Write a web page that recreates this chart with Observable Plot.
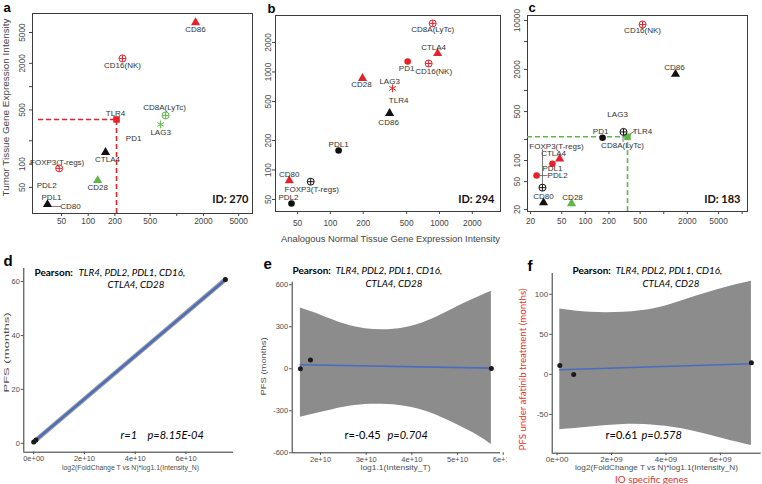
<!DOCTYPE html>
<html><head><meta charset="utf-8">
<script src="https://cdn.jsdelivr.net/npm/d3@7"></script>
<script src="https://cdn.jsdelivr.net/npm/@observablehq/plot@0.6"></script>
<style>
body{margin:0;background:#fff;}
#fig{position:relative;width:762px;height:484px;overflow:hidden;}
#fig > svg{position:absolute;display:block;}
</style></head><body><div id="fig"></div>
<script>
// ---------------- DATA ----------------
const genes = ["CD86","CD16(NK)","TLR4","CD8A(LyTc)","LAG3","PD1","CTLA4","FOXP3(T-regs)","CD28","PDL2","PDL1","CD80"];
const geneGroup = ["B7/CD28","cell marker","TLR4","cell marker","LAG3","PD-1","B7/CD28","cell marker","B7/CD28","PD-1","PD-1","B7/CD28"];

// patient ID 270 (normal = x, tumor = y)
const normal270 = [1630, 244, 209, 748, 658, 326, 157, 47, 128, 34, 36.6, 34.7];
const tumor270  = [6730, 2310, 377, 425, 325, 264, 142, 88, 61.5, 43, 28.8, 30.1];
const status270 = ["up","up","up","down","down","none","none","up","down","none","none","none"];
// patient ID 294
const normal294 = [349, 796, 431, 867, 372, 511, 962, 66, 197, 44, 119, 42];
const tumor294  = [378, 1220, 604, 3130, 680, 1280, 1546, 76, 860, 45.5, 158, 78];
const status294 = ["none","up","none","up","up","up","up","none","up","none","none","up"];
// patient ID 183
const normal183 = [1413, 537, 345, 307, 258, 166, 47, 28.4, 66.7, 23.9, 38, 29.3];
const tumor183  = [1710, 8770, 218, 256, 367, 211, 106, 41, 24.3, 61, 90, 25];
const status183 = ["none","up","down","none","none","none","up","none","down","up","up","none"];

const statusKeys = ["up","down","none"];

// tick values and labels
const ticksA_x = [50,100,200,500,1000,2000,5000];
const labelsA_x = ["50","100","200","500","","2000","5000"];
const ticksA_y = [50,100,200,500,1000,2000,5000];
const labelsA_y = ["50","100","","500","","2000","5000"];
const ticksB_x = [50,100,200,500,1000,2000];
const labelsB_x = ["50","100","200","500","1000","2000"];
const ticksB_y = [50,100,200,500,1000,2000];
const labelsB_y = ["50","100","200","500","1000","2000"];
const ticksC_x = [20,50,100,200,500,1000,2000,5000,10000];
const labelsC_x = ["20","50","100","200","500","","2000","5000",""];
const ticksC_y = [20,50,100,200,500,1000,2000,5000,10000];
const labelsC_y = ["20","50","100","","500","","2000","","10000"];

// regression panels: score vs PFS
const scoreD = [0, 0.09e10, 7.55e10];
const pfsD   = [0.5, 1.2, 60.7];
const fitD_x = [0, 7.55e10];
const fitD_y = [0.5, 60.7];

const scoreE = [1.56e10, 1.78e10, 5.74e10];
const pfsE   = [0, 62, 1];
const fitE_x = [1.56e10, 5.74e10];
const fitE_y = [28.6, 4];
const bandE_x  = [1.56e10, 2.02e10, 2.51e10, 2.98e10, 3.47e10, 3.97e10, 4.46e10, 4.95e10, 5.44e10, 5.74e10];
const bandE_hi = [433, 381, 321, 286, 279, 302, 357, 436, 511, 554];
const bandE_lo = [-346, -310, -274, -255, -255, -274, -321, -393, -476, -541];

const scoreF = [0.1e9, 0.61e9, 7.14e9];
const pfsF   = [11.2, 0, 14.6];
const fitF_x = [0.1e9, 7.14e9];
const fitF_y = [5.8, 13.3];
const bandF_x  = [0.1e9, 1.225e9, 2.45e9, 3.68e9, 4.9e9, 6.12e9, 7.14e9];
const bandF_hi = [81.7, 77.5, 77.5, 82.9, 95.4, 107.9, 116.3];
const bandF_lo = [-69.2, -65.8, -62.5, -63.8, -70, -80.4, -88.8];

const ticksD_x = [0, 2e10, 4e10, 6e10];
const labelsD_x = ["0e+00","2e+10","4e+10","6e+10"];
const ticksD_y = [0, 20, 40, 60];
const ticksE_x = [2e10, 3e10, 4e10, 5e10, 6e10];
const labelsE_x = ["2e+10","3e+10","4e+10","5e+10","6e+10"];
const ticksE_y = [-600, -300, 0, 300, 600];
const ticksF_x = [0, 2e9, 4e9, 6e9];
const labelsF_x = ["0e+00","2e+09","4e+09","6e+09"];
const ticksF_y = [-50, 0, 50, 100];

const pearsonGenes = "TLR4, PDL2, PDL1, CD16,";
const pearsonGenes2 = "CTLA4, CD28";

// ---------------- STYLE / LAYOUT ----------------
const SANS = "'Liberation Sans', Arial, sans-serif";
const CAL = "Lato, 'Open Sans', sans-serif";
const statusColors = ["#e8202a", "#5fb846", "#111111"];
const groupStyle = {
  "PD-1": {symbol: "circle", r: 3.3, solid: true},
  "B7/CD28": {symbol: "triangle", r: 3.4, solid: true},
  "TLR4": {symbol: "square", r: 3.7, solid: true},
  "cell marker": {symbol: "circle", r: 3.5, solid: false, plus: 2.2},
  "LAG3": {symbol: "asterisk", r: 3.7, solid: false}
};
// leader line: [dx, dy, length px, angle deg]
const leaderShape = {draw(ctx, l) { ctx.moveTo(0, 0); ctx.lineTo(0, -l); }};

const fig = document.getElementById("fig");

function stretchText(svg) {
  svg.querySelectorAll("g[class*='len-']").forEach(g => {
    const m = g.getAttribute("class").match(/len-(\d+)/);
    g.querySelectorAll("text").forEach(t => {
      t.setAttribute("textLength", m[1]);
      t.setAttribute("lengthAdjust", "spacingAndGlyphs");
    });
  });
}

function place(svg, left, top) {
  svg.style.left = left + "px";
  svg.style.top = top + "px";
  stretchText(svg);
  fig.appendChild(svg);
}

// text at absolute page position
function absText(cfg, str, px, py, opts) {
  const fx = cfg.left + cfg.m[3], fy = cfg.top + cfg.m[0];
  return Plot.text([str], Object.assign({text: d => d, frameAnchor: "top-left", dx: px - fx, dy: py - fy}, opts));
}

function scatter(cfg) {
  const rows = genes.map((g, i) => ({gene: g, group: geneGroup[i], x: cfg.xs[i], y: cfg.ys[i], status: cfg.status[i]}));
  const tlr = rows.filter(r => r.gene === "TLR4");
  const xt = cfg.xTicks.map((v, i) => ({v, label: cfg.xLabels[i]}));
  const yt = cfg.yTicks.map((v, i) => ({v, label: cfg.yLabels[i]}));
  const marks = [
    Plot.frame({stroke: "#3c3c3c", strokeWidth: 1}),
    Plot.axisX(cfg.xTicks, {tickSize: 3, text: null, label: null}),
    Plot.axisY(cfg.yTicks, {tickSize: 3, text: null, label: null}),
    Plot.text(xt, {x: "v", text: "label", frameAnchor: "bottom", dy: 3 + cfg.padX, lineAnchor: "top", fontSize: 8.3, fill: "#444"}),
    Plot.text(yt, {y: "v", text: "label", frameAnchor: "left", dx: -(3 + cfg.padY), rotate: -90, textAnchor: "middle", lineAnchor: "bottom", fontSize: 8.3, fill: "#444"}),
    Plot.ruleY(tlr, {y: "y", x1: cfg.dashFrom, x2: "x", stroke: "status", strokeWidth: 1.6, strokeDasharray: "5,3"}),
    Plot.ruleX(tlr, {x: "x", y1: cfg.yDomain[0], y2: "y", stroke: "status", strokeWidth: 1.6, strokeDasharray: "5,3"})
  ];
  for (const [g, s] of Object.entries(groupStyle)) {
    const sub = rows.filter(r => r.group === g);
    if (s.solid) marks.push(Plot.dot(sub, {x: "x", y: "y", symbol: s.symbol, r: s.r, fill: "status", stroke: "none"}));
    else marks.push(Plot.dot(sub, {x: "x", y: "y", symbol: s.symbol, r: s.r, fill: "none", stroke: "status", strokeWidth: 1}));
    if (s.plus) marks.push(Plot.dot(sub, {x: "x", y: "y", symbol: "plus", r: s.plus, stroke: "status", strokeWidth: 1}));
  }
  for (const r of rows) {
    const o = cfg.offsets[r.gene];
    marks.push(Plot.text([r], {x: "x", y: "y", text: "gene", dx: o[0], dy: o[1], fontSize: 8, fill: "#333"}));
    const L = (cfg.leaders || {})[r.gene];
    if (L) marks.push(Plot.vector([r], {x: "x", y: "y", dx: L[0], dy: L[1], length: L[2], rotate: L[3], anchor: "start",
      shape: leaderShape, stroke: "#555", strokeWidth: 0.8}));
  }
  marks.push(absText(cfg, cfg.id, cfg.idPos[0], cfg.idPos[1], {textAnchor: "end", lineAnchor: "middle", fontFamily: CAL, fontWeight: "bold", fontSize: 11, fill: "#111"}));
  marks.push(absText(cfg, cfg.letter, cfg.letterPos[0], cfg.letterPos[1], {textAnchor: "start", lineAnchor: "bottom", fontWeight: "bold", fontSize: 13, fill: "#000"}));
  if (cfg.extra) marks.push(...cfg.extra(cfg));
  const svg = Plot.plot({
    width: cfg.w, height: cfg.h,
    marginTop: cfg.m[0], marginRight: cfg.m[1], marginBottom: cfg.m[2], marginLeft: cfg.m[3],
    x: {type: "log", domain: cfg.xDomain},
    y: {type: "log", domain: cfg.yDomain},
    color: {domain: statusKeys, range: statusColors},
    style: {fontFamily: SANS, fontSize: "8px", color: "#444", background: "transparent", overflow: "visible"},
    marks
  });
  place(svg, cfg.left, cfg.top);
}

function regression(cfg) {
  const pts = cfg.xs.map((x, i) => ({x, y: cfg.ys[i]}));
  const fit = cfg.fitX.map((x, i) => ({x, y: cfg.fitY[i]}));
  const marks = [];
  if (cfg.bandX) {
    const band = cfg.bandX.map((x, i) => ({x, lo: cfg.bandLo[i], hi: cfg.bandHi[i]}));
    marks.push(Plot.areaY(band, {x: "x", y1: "lo", y2: "hi", curve: "natural", fill: "#8c8c8c"}));
  } else {
    marks.push(Plot.line(fit, {x: "x", y: "y", stroke: "#9a9a9a", strokeWidth: 4.5}));
  }
  marks.push(
    Plot.line(fit, {x: "x", y: "y", stroke: "#4a6cc0", strokeWidth: cfg.lineW}),
    Plot.dot(pts, {x: "x", y: "y", r: 2.5, fill: "#1a1a1a"}),
    Plot.ruleX([cfg.xDomain[0]], {stroke: "#333", strokeWidth: 1}),
    Plot.ruleY([cfg.yDomain[0]], {stroke: "#333", strokeWidth: 1}),
    Plot.axisX(cfg.xTicks, {tickSize: 2.5, tickPadding: 1, label: null, fontSize: cfg.tickFont,
      tickFormat: d => cfg.xLabels[cfg.xTicks.indexOf(d)]}),
    Plot.axisY(cfg.yTicks, {tickSize: 2.5, tickPadding: 1.5, label: null, fontSize: cfg.tickFont, tickFormat: d => String(d)}),
    absText(cfg, "Pearson:", cfg.p1[0], cfg.p1[1], {textAnchor: "start", lineAnchor: "bottom", fontFamily: CAL, fontWeight: "bold", fontSize: 10, fill: "#000"}),
    absText(cfg, pearsonGenes, cfg.p2[0], cfg.p2[1], {textAnchor: "start", lineAnchor: "bottom", fontFamily: CAL, fontStyle: "italic", fontSize: 9.8, fill: "#000"}),
    absText(cfg, pearsonGenes2, cfg.p3[0], cfg.p3[1], {textAnchor: "start", lineAnchor: "bottom", fontFamily: CAL, fontStyle: "italic", fontSize: 9.8, fill: "#000"}),
    absText(cfg, cfg.rText, cfg.rPos[0], cfg.rPos[1], {textAnchor: "start", lineAnchor: "bottom", fontFamily: CAL, fontStyle: cfg.rItalic ? "italic" : "normal", fontSize: 11, fill: "#000"}),
    absText(cfg, cfg.pText, cfg.pPos[0], cfg.pPos[1], {textAnchor: "start", lineAnchor: "bottom", fontFamily: CAL, fontStyle: "italic", fontSize: 11, fill: "#000"}),
    absText(cfg, cfg.letter, cfg.letterPos[0], cfg.letterPos[1], {textAnchor: "start", lineAnchor: "bottom", fontWeight: "bold", fontSize: 15, fill: "#000"})
  );
  if (cfg.extra) marks.push(...cfg.extra(cfg));
  const svg = Plot.plot({
    width: cfg.w, height: cfg.h,
    marginTop: cfg.m[0], marginRight: cfg.m[1], marginBottom: cfg.m[2], marginLeft: cfg.m[3],
    x: {domain: cfg.xDomain},
    y: {domain: cfg.yDomain},
    style: {fontFamily: SANS, fontSize: "8px", color: "#4d4d4d", background: "transparent", overflow: cfg.clip ? "hidden" : "visible"},
    marks
  });
  place(svg, cfg.left, cfg.top);
}

// ---------------- PANELS ----------------
scatter({
  left: 0, top: 0, w: 258, h: 232, m: [13, 6, 19, 32],
  xs: normal270, ys: tumor270, status: status270,
  xDomain: [23.5, 7170], yDomain: [23, 8800],
  xTicks: ticksA_x, xLabels: labelsA_x, yTicks: ticksA_y, yLabels: labelsA_y,
  padX: 2, padY: 5, dashFrom: 27.5,
  id: "ID: 270", idPos: [248, 199], letter: "a", letterPos: [3, 11],
  offsets: {"CD86": [0, 7], "CD16(NK)": [0, 6.5], "TLR4": [-1, -6.5], "CD8A(LyTc)": [-1, -8], "LAG3": [0, 8],
    "PD1": [0, 7], "CTLA4": [2, 7], "FOXP3(T-regs)": [-2, -6], "CD28": [0, 7], "PDL2": [0, -7], "PDL1": [2, -8], "CD80": [23, 2]},
  leaders: {"CD80": [5, 2, 8, 90]},
  extra: cfg => [absText(cfg, "Tumor Tissue Gene Expression Intensity", 6, 107, {rotate: -90, textAnchor: "middle", lineAnchor: "middle", fontSize: 9, fill: "#444", className: "len-178"})]
});

scatter({
  left: 258, top: 0, w: 250, h: 246, m: [15, 8, 35, 17],
  xs: normal294, ys: tumor294, status: status294,
  xDomain: [31.4, 3627], yDomain: [37.7, 3770],
  xTicks: ticksB_x, xLabels: labelsB_x, yTicks: ticksB_y, yLabels: labelsB_y,
  padX: 6, padY: 2, dashFrom: 38.8,
  id: "ID: 294", idPos: [494, 199], letter: "b", letterPos: [267, 12],
  offsets: {"CD86": [-1, 9], "CD16(NK)": [5, 8], "TLR4": [-1, 7], "CD8A(LyTc)": [0, 6], "LAG3": [-3, -7],
    "PD1": [-1, 6.5], "CTLA4": [-4, -6], "FOXP3(T-regs)": [1, 8], "CD28": [-1, 6.5], "PDL2": [-3, -6], "PDL1": [0, -6], "CD80": [0, -6]},
  extra: cfg => [absText(cfg, "Analogous Normal Tissue Gene Expression Intensity", 390, 239, {textAnchor: "middle", lineAnchor: "middle", fontSize: 9, fill: "#444", className: "len-219"})]
});

scatter({
  left: 508, top: 0, w: 254, h: 232, m: [15, 15, 21, 19],
  xs: normal183, ys: tumor183, status: status183,
  xDomain: [18.3, 11700], yDomain: [18.7, 11780],
  xTicks: ticksC_x, xLabels: labelsC_x, yTicks: ticksC_y, yLabels: labelsC_y,
  padX: 4, padY: 5, dashFrom: 18.3,
  id: "ID: 183", idPos: [740, 199], letter: "c", letterPos: [528, 11],
  offsets: {"CD86": [-1, -6.5], "CD16(NK)": [0, 6], "TLR4": [15, -5], "CD8A(LyTc)": [-1, 14], "LAG3": [0, -7],
    "PD1": [-2, -6.5], "CTLA4": [-6, -5.5], "FOXP3(T-regs)": [14, -41], "CD28": [1, -6], "PDL2": [21, 0], "PDL1": [0, 5], "CD80": [0, -6.5]},
  leaders: {"PDL2": [3.5, 0, 7, 90], "FOXP3(T-regs)": [0, -4, 34, 0], "CD8A(LyTc)": [-0.5, 3.5, 6, 180], "TLR4": [3, -3, 5, 55]}
});

regression({
  left: 0, top: 240, w: 250, h: 244, m: [28, 17, 32.3, 23.3],
  xs: scoreD, ys: pfsD, fitX: fitD_x, fitY: fitD_y, lineW: 2.4,
  xDomain: [-0.39e10, 7.87e10], yDomain: [-3.3, 64.8],
  xTicks: ticksD_x, xLabels: labelsD_x, yTicks: ticksD_y, tickFont: 7.5,
  p1: [34, 275], p2: [78, 275], p3: [107, 287],
  rText: "r=1", rItalic: true, rPos: [120, 438], pText: "p=8.15E-04", pPos: [147, 438],
  letter: "d", letterPos: [3, 265],
  extra: cfg => [
    absText(cfg, "log2(FoldChange T vs N)*log1.1(Intensity_N)", 130, 467, {textAnchor: "middle", lineAnchor: "middle", fontSize: 7.5, fill: "#4d4d4d", className: "len-137"}),
    absText(cfg, "PFS (months)", 6, 352, {rotate: -90, textAnchor: "middle", lineAnchor: "middle", fontSize: 8, fill: "#4d4d4d", className: "len-80"})
  ]
});

regression({
  left: 250, top: 240, w: 257, h: 244, m: [41.7, 7, 31.7, 41.7], clip: true,
  xs: scoreE, ys: pfsE, fitX: fitE_x, fitY: fitE_y, lineW: 1.7,
  bandX: bandE_x, bandHi: bandE_hi, bandLo: bandE_lo,
  xDomain: [1.38e10, 5.94e10], yDomain: [-600, 618],
  xTicks: ticksE_x, xLabels: labelsE_x, yTicks: ticksE_y, tickFont: 7.5,
  p1: [292, 273], p2: [335, 273], p3: [365, 286],
  rText: "r=-0.45", rItalic: false, rPos: [344, 438], pText: "p=0.704", pPos: [387, 438],
  letter: "e", letterPos: [263, 268],
  extra: cfg => [
    absText(cfg, "log1.1(Intensity_T)", 395, 467, {textAnchor: "middle", lineAnchor: "middle", fontSize: 8, fill: "#4d4d4d", className: "len-70"}),
    absText(cfg, "PFS (months)", 263, 366, {rotate: -90, textAnchor: "middle", lineAnchor: "middle", fontSize: 8, fill: "#4d4d4d", className: "len-58"})
  ]
});

regression({
  left: 507, top: 240, w: 255, h: 244, m: [33, 1.3, 31.3, 44.7],
  xs: scoreF, ys: pfsF, fitX: fitF_x, fitY: fitF_y, lineW: 1.7,
  bandX: bandF_x, bandHi: bandF_hi, bandLo: bandF_lo,
  xDomain: [-0.18e9, 7.5e9], yDomain: [-98.4, 126],
  xTicks: ticksF_x, xLabels: labelsF_x, yTicks: ticksF_y, tickFont: 8,
  p1: [572, 273], p2: [615, 273], p3: [642, 286],
  rText: "r=0.61", rItalic: false, rPos: [605, 438], pText: "p=0.578", pPos: [641, 438],
  letter: "f", letterPos: [527, 270],
  extra: cfg => [
    absText(cfg, "log2(FoldChange T vs N)*log1.1(Intensity_N)", 656, 467, {textAnchor: "middle", lineAnchor: "middle", fontSize: 8, fill: "#4d4d4d", className: "len-163"}),
    absText(cfg, "IO specific genes", 651, 479, {textAnchor: "middle", lineAnchor: "middle", fontFamily: CAL, fontSize: 9.8, fill: "#e8302c"}),
    absText(cfg, "PFS under afatinib treatment (months)", 522, 369, {rotate: -90, textAnchor: "middle", lineAnchor: "middle", fontFamily: CAL, fontSize: 10, fill: "#e8302c", className: "len-162"})
  ]
});
</script></body></html>
